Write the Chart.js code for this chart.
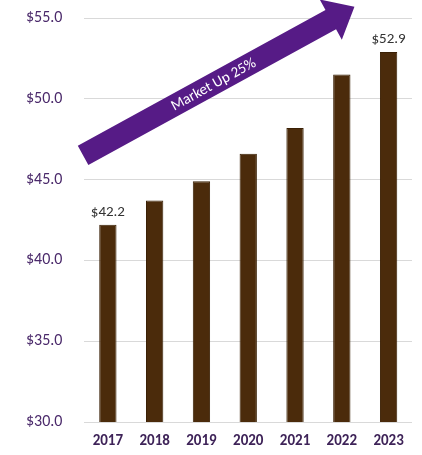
<!DOCTYPE html>
<html>
<head>
<meta charset="utf-8">
<script src="https://cdn.jsdelivr.net/npm/chart.js@4"></script>
<style>
  html, body { margin: 0; padding: 0; background: #fff; }
  #wrap { width: 422px; height: 455px; }
</style>
</head>
<body>
<div id="wrap"><canvas id="chart"></canvas></div>
<script>
const years = ['2017', '2018', '2019', '2020', '2021', '2022', '2023'];
const marketSize = [42.2, 43.7, 44.9, 46.6, 48.2, 51.5, 52.9];
const labeledBars = [0, 6];
const arrowText = 'Market Up 25%';

const FONT = 'Carlito, Lato, sans-serif';

// values above first and last bar
const barLabels = {
    id: 'barLabels',
    afterDatasetsDraw(chart) {
        const ctx = chart.ctx;
        const meta = chart.getDatasetMeta(0);
        ctx.save();
        ctx.font = '15px ' + FONT;
        ctx.fillStyle = '#333333';
        ctx.textAlign = 'center';
        ctx.textBaseline = 'bottom';
        labeledBars.forEach(i => {
            const bar = meta.data[i];
            ctx.fillText('$' + marketSize[i].toFixed(1), bar.x, bar.y - 5);
        });
        ctx.restore();
    }
};

// purple "Market Up" arrow
const trendArrow = {
    id: 'trendArrow',
    afterDatasetsDraw(chart) {
        const ctx = chart.ctx;
        const xs = chart.scales.x, ys = chart.scales.y;
        const x0 = xs.getPixelForValue(-0.53), y0 = ys.getPixelForValue(46.5);
        const x1 = xs.getPixelForValue(5.27), y1 = ys.getPixelForValue(55.7);
        const ang = Math.atan2(y1 - y0, x1 - x0);
        const len = Math.hypot(x1 - x0, y1 - y0);
        const shaft = 11, headW = 23, headL = 27;
        ctx.save();
        ctx.translate(x0, y0);
        ctx.rotate(ang);
        ctx.beginPath();
        ctx.moveTo(0, -shaft);
        ctx.lineTo(len - headL, -shaft);
        ctx.lineTo(len - headL, -headW);
        ctx.lineTo(len, 0);
        ctx.lineTo(len - headL, headW);
        ctx.lineTo(len - headL, shaft);
        ctx.lineTo(0, shaft);
        ctx.closePath();
        ctx.fillStyle = '#561b86';
        ctx.fill();
        ctx.font = '15px ' + FONT;
        ctx.fillStyle = '#ffffff';
        ctx.textAlign = 'center';
        ctx.textBaseline = 'middle';
        ctx.fillText(arrowText, len * 0.48, 1);
        ctx.restore();
    }
};

new Chart(document.getElementById('chart'), {
    type: 'bar',
    data: {
        labels: years,
        datasets: [{
            data: marketSize,
            backgroundColor: '#4b2b0b',
            borderColor: '#3a2005',
            borderWidth: 1,
            categoryPercentage: 1,
            barPercentage: 0.37
        }]
    },
    options: {
        responsive: true,
        maintainAspectRatio: false,
        animation: false,
        layout: { padding: { top: 0, right: 10, left: 4, bottom: -5 } },
        plugins: {
            legend: { display: false },
            tooltip: { enabled: false }
        },
        scales: {
            x: {
                grid: { display: false, drawTicks: false },
                border: { display: false },
                ticks: {
                    color: '#3e2358',
                    font: { family: FONT, size: 15, weight: 'bold' },
                    padding: 10,
                    maxRotation: 0,
                    autoSkip: false
                }
            },
            y: {
                min: 30,
                max: 55,
                grid: { color: '#d9d9d9', lineWidth: 1, drawTicks: false },
                border: { display: false },
                ticks: {
                    stepSize: 5,
                    color: '#4b2a6b',
                    font: { family: FONT, size: 16 },
                    padding: 22,
                    callback: v => '$' + v.toFixed(1)
                },
                afterFit(scale) {
                    scale.paddingTop = 18;
                    scale.paddingBottom = 0;
                }
            }
        }
    },
    plugins: [barLabels, trendArrow]
});
</script>
</body>
</html>
